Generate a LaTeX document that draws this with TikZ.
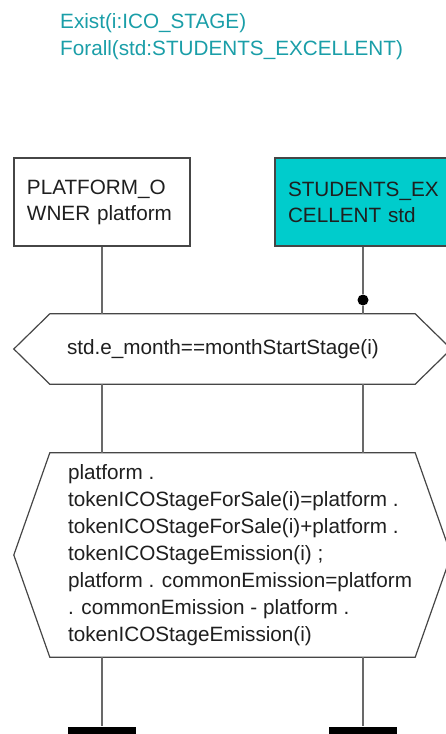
\documentclass[tikz,border=0pt]{standalone}
\usepackage{fontspec}
\setmainfont{Liberation Sans}
\usetikzlibrary{positioning}
\definecolor{quantteal}{RGB}{26,158,168}
\definecolor{actorcyan}{RGB}{0,204,204}
\definecolor{linegray}{RGB}{105,105,105}
\definecolor{framegray}{RGB}{70,70,70}
\tikzset{
  every node/.style={font=\fontsize{20.7}{26}\selectfont, text=black!88, inner sep=0pt},
  quant/.style={text=quantteal, align=left, font=\fontsize{20.7}{27}\selectfont},
  actor/.style={draw=framegray, line width=1.3pt, minimum width=176pt, minimum height=88pt,
    text width=150pt, align=left},
  hexa/.style={minimum width=365pt},
  frame/.style={draw=framegray, line width=1.2pt, fill=white},
  lifeline/.style={draw=linegray, line width=2pt},
  endbar/.style={fill=black, minimum width=68pt, minimum height=9pt},
  selectdot/.style={circle, fill=black, minimum size=11pt},
  guardtext/.style={align=left, font=\fontsize{20.7}{27}\selectfont},
}

\begin{document}
\begin{tikzpicture}[x=1pt, y=-1pt]
  \useasboundingbox (0,0) rectangle (446,734);

  % quantifiers
  \node[quant, anchor=north west] (quantifiers) at (60,13)
    {Exist(i:ICO\_STAGE)\\Forall(std:STUDENTS\_EXCELLENT)};

  % instances
  \node[actor] (owner) at (102,202) {PLATFORM\_O\\WNER platform};
  \node[actor, fill=actorcyan] (students) at (363,202) {STUDENTS\_EX\\CELLENT std};

  % condition and action
  \node[hexa, minimum height=70pt] (guard) at (232.5,349) {};
  \node[hexa, minimum height=204pt] (emission) at (232.5,555) {};
  \foreach \h in {guard, emission}
    \draw[frame] (\h.north west) -- (\h.north east) -- ([xshift=36pt]\h.east)
      -- (\h.south east) -- (\h.south west) -- ([xshift=-36pt]\h.west) -- cycle;
  \node[guardtext, right=17pt of guard.west] (guardlabel)
    {std.e\_month==monthStartStage(i)};
  \node[guardtext, right=18pt of emission.west] (emissionlabel)
    {platform .\\
     tokenICOStageForSale(i)=platform .\\
     tokenICOStageForSale(i)+platform .\\
     tokenICOStageEmission(i) ;\\
     platform . commonEmission=platform\\
     . commonEmission - platform .\\
     tokenICOStageEmission(i)};

  % ends
  \node[endbar] (ownerend) at (102,731) {};
  \node[endbar] (studentsend) at (363,731) {};
  \node[selectdot] (selector) at (363,300) {};

  % lifelines
  \draw[lifeline] (owner) -- (owner |- guard.north);
  \draw[lifeline] (owner |- guard.south) -- (owner |- emission.north);
  \draw[lifeline] (owner |- emission.south) -- (ownerend);
  \draw[lifeline] (students) -- (selector) -- (students |- guard.north);
  \draw[lifeline] (students |- guard.south) -- (students |- emission.north);
  \draw[lifeline] (students |- emission.south) -- (studentsend);
\end{tikzpicture}
\end{document}
